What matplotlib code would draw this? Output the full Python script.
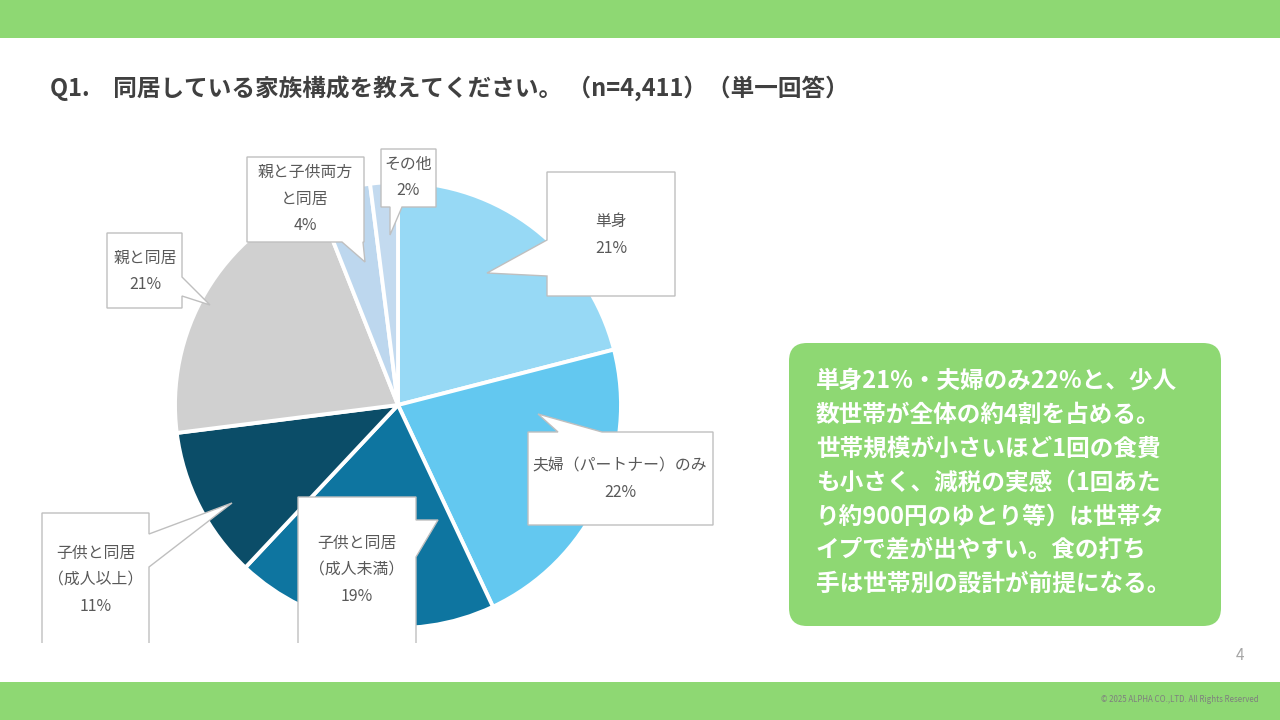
import matplotlib
matplotlib.use("Agg")
import matplotlib.pyplot as plt
from matplotlib.patches import Polygon, Rectangle, FancyBboxPatch

plt.rcParams['font.family'] = ['Noto Sans CJK JP', 'DejaVu Sans']

# ---- data ----
categories = ["単身", "夫婦（パートナー）のみ", "子供と同居\n（成人未満）", "子供と同居\n（成人以上）",
              "親と同居", "親と子供両方\nと同居", "その他"]
values = [21, 22, 19, 11, 21, 4, 2]
colors = ["#97D9F5", "#63C8F0", "#0E75A0", "#0B4D68", "#D0D0D0", "#BDD7EE", "#C3DAEF"]

title = "Q1.　同居している家族構成を教えてください。 （n=4,411）（単一回答）"
summary_lines = [
    "単身21%・夫婦のみ22%と、少人",
    "数世帯が全体の約4割を占める。",
    "世帯規模が小さいほど1回の食費",
    "も小さく、減税の実感（1回あた",
    "り約900円のゆとり等）は世帯タ",
    "イプで差が出やすい。食の打ち",
    "手は世帯別の設計が前提になる。",
]
page_no = "4"
copyright_text = "© 2025 ALPHA CO.,LTD. All Rights Reserved"

# ---- layout (pixel coords, y downward) ----
W, H = 1280, 720
GREEN = "#8ED873"
cx, cy, R = 398, 405, 223

# callout layout: box (x0,y0,x1,y1), pointer edge, base (a,b), tip, text center
callouts = [
    dict(box=(547, 172, 675, 296), edge="left", base=(240, 276), tip=(487, 273), tc=(611, 235)),
    dict(box=(528, 432, 713, 525), edge="top", base=(558, 602), tip=(538, 414), tc=(620, 479)),
    dict(box=(298, 497, 416, 660), edge="right", base=(520, 557), tip=(438, 520), tc=(357, 570)),
    dict(box=(42, 513, 149, 660), edge="right", base=(534, 567), tip=(232, 503), tc=(96, 580)),
    dict(box=(107, 233, 182, 308), edge="right", base=(277, 296), tip=(210, 305), tc=(145, 271)),
    dict(box=(247, 157, 364, 242), edge="bottom", base=(342, 363), tip=(365, 262), tc=(305, 199)),
    dict(box=(381, 149, 436, 207), edge="bottom", base=(390, 402), tip=(390, 235), tc=(408, 177)),
]

fig = plt.figure(figsize=(W / 100, H / 100), dpi=100)
fig.patch.set_facecolor("white")

# pie axes
pax = fig.add_axes([(cx - R) / W, (H - cy - R) / H, 2 * R / W, 2 * R / H])
pax.set_zorder(1)
pax.pie(values, colors=colors, startangle=90, counterclock=False, radius=1,
        wedgeprops=dict(edgecolor="white", linewidth=2.8))
pax.set_xlim(-1, 1)
pax.set_ylim(-1, 1)
pax.set_aspect("equal")
pax.axis("off")

# overlay axes in pixel coordinates
ov = fig.add_axes([0, 0, 1, 1])
ov.set_zorder(2)
ov.set_xlim(0, W)
ov.set_ylim(H, 0)
ov.axis("off")
ov.patch.set_alpha(0)

# bands
ov.add_patch(Rectangle((0, 0), W, 38, color=GREEN, lw=0))
ov.add_patch(Rectangle((0, 682), W, 38, color=GREEN, lw=0))

ov.text(50, 88, title, fontsize=17, fontweight="bold", color="#404040", va="center", ha="left")

clip_rect = Rectangle((0, 0), W, 643, transform=ov.transData)


def callout_poly(box, edge, base, tip):
    x0, y0, x1, y1 = box
    a, b = base
    pts = [(x0, y0)]
    if edge == "top":
        pts += [(a, y0), tip, (b, y0)]
    pts += [(x1, y0)]
    if edge == "right":
        pts += [(x1, a), tip, (x1, b)]
    pts += [(x1, y1)]
    if edge == "bottom":
        pts += [(b, y1), tip, (a, y1)]
    pts += [(x0, y1)]
    if edge == "left":
        pts += [(x0, b), tip, (x0, a)]
    return pts


for cat, val, co in zip(categories, values, callouts):
    poly = Polygon(callout_poly(co["box"], co["edge"], co["base"], co["tip"]), closed=True,
                   facecolor="white", edgecolor="#BFBFBF", linewidth=1.0, joinstyle="miter")
    ov.add_patch(poly)
    poly.set_clip_path(clip_rect)
    ov.text(co["tc"][0], co["tc"][1], f"{cat}\n{val}%", ha="center", va="center",
            fontsize=11.4, color="#595959", linespacing=1.7, multialignment="center")

# summary box
ov.add_patch(FancyBboxPatch((789, 343), 432, 283, boxstyle="round,pad=0,rounding_size=18",
                            facecolor=GREEN, edgecolor="none"))
for i, line in enumerate(summary_lines):
    ov.text(816, 381 + i * 33.8, line, fontsize=17, fontweight="bold", color="white",
            ha="left", va="center")

ov.text(1240, 655, page_no, fontsize=11, color="#A6A6A6", ha="center", va="center")
ov.text(1259, 700, copyright_text, fontsize=5.7, color="#7F7F7F", ha="right", va="center")

fig.savefig("out.png", dpi=100)
